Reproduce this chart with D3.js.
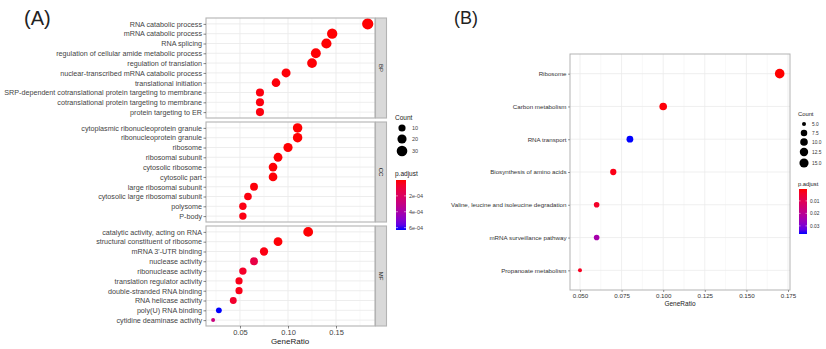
<!DOCTYPE html>
<html><head><meta charset="utf-8">
<script src="https://cdn.jsdelivr.net/npm/d3@7"></script>
<style>
body{margin:0;background:#fff;}
svg{display:block;font-family:"Liberation Sans",Arial,sans-serif;}
</style></head>
<body>
<svg id="c" width="826" height="349"></svg>
<script>
// ---------- Panel A data (GO) ----------
const bpTerms = ["RNA catabolic process","mRNA catabolic process","RNA splicing","regulation of cellular amide metabolic process","regulation of translation","nuclear-transcribed mRNA catabolic process","translational initiation","SRP-dependent cotranslational protein targeting to membrane","cotranslational protein targeting to membrane","protein targeting to ER"];
const bpRatio = [0.183,0.146,0.140,0.129,0.125,0.098,0.0875,0.0708,0.0708,0.0708];
const bpCount = [35,28,27,25,24,19,17,14,14,14];
const bpPadj  = [1e-6,2e-6,3e-6,4e-6,5e-6,8e-6,1e-5,1.5e-5,1.5e-5,1.5e-5];

const ccTerms = ["cytoplasmic ribonucleoprotein granule","ribonucleoprotein granule","ribosome","ribosomal subunit","cytosolic ribosome","cytosolic part","large ribosomal subunit","cytosolic large ribosomal subunit","polysome","P-body"];
const ccRatio = [0.110,0.110,0.100,0.0896,0.0844,0.0844,0.0646,0.0583,0.053,0.053];
const ccCount = [22,22,20,18,17,17,13,12,11,11];
const ccPadj  = [2e-6,2e-6,3e-6,5e-6,6e-6,6e-6,1e-5,1.5e-5,2e-5,2e-5];

const mfTerms = ["catalytic activity, acting on RNA","structural constituent of ribosome","mRNA 3'-UTR binding","nuclease activity","ribonuclease activity","translation regulator activity","double-stranded RNA binding","RNA helicase activity","poly(U) RNA binding","cytidine deaminase activity"];
const mfRatio = [0.121,0.0896,0.075,0.0646,0.053,0.049,0.049,0.043,0.028,0.022];
const mfCount = [24,18,15,13,11,10,10,9,6,4];
const mfPadj  = [3e-6,6e-6,2e-5,1.3e-4,6e-5,3e-5,3e-5,7e-5,6.3e-4,2.8e-4];

const goTicks = [0.05,0.10,0.15];
const goTickLabels = ["0.05","0.10","0.15"];
const goCountBreaks = [10,20,30];
const goPadjBreaks = [2e-4,4e-4,6e-4];
const goPadjLabels = ["2e-04","4e-04","6e-04"];

// ---------- Panel B data (KEGG) ----------
const keggTerms = ["Ribosome","Carbon metabolism","RNA transport","Biosynthesis of amino acids","Valine, leucine and isoleucine degradation","mRNA surveillance pathway","Propanoate metabolism"];
const keggRatio = [0.170,0.100,0.080,0.070,0.060,0.060,0.050];
const keggCount = [17,10,8,7,6,6,5];
const keggPadj  = [0.0005,0.001,0.0365,0.002,0.004,0.024,0.003];
const keggTicks = [0.050,0.075,0.100,0.125,0.150,0.175];
const keggTickLabels = ["0.050","0.075","0.100","0.125","0.150","0.175"];
const keggCountBreaks = [5,7.5,10,12.5,15];
const keggCountLabels = ["5.0","7.5","10.0","12.5","15.0"];
const keggPadjBreaks = [0.01,0.02,0.03];
const keggPadjLabels = ["0.01","0.02","0.03"];

const svg = d3.select("#c");
const GRID = "#ebebeb", BORDER = "#b3b3b3", TXT = "#444";

function sizeScale(cmin, cmax, rmin, rmax){
  const lin = d3.scaleLinear().domain([0,1]).range([rmin,rmax]);
  return c => lin(Math.sqrt(Math.max(0,(c-cmin)/(cmax-cmin))));
}
function colorScale(dom){
  return d3.scaleLinear().domain(dom).range(["red","blue"]).interpolate(d3.interpolateLab);
}

// ---------- Panel A ----------
const ax = d3.scaleLinear().domain([0.0146,0.1906]).range([206,375]);
const goAllPadj = bpPadj.concat(ccPadj, mfPadj);
const goAllCount = bpCount.concat(ccCount, mfCount);
const goCol = colorScale([0, d3.max(goAllPadj)]);
const goSize = sizeScale(d3.min(goAllCount), d3.max(goAllCount), 2.0, 5.6);

const facets = [
  {name:"BP", terms:bpTerms, ratio:bpRatio, count:bpCount, padj:bpPadj, y0:18, y1:118},
  {name:"CC", terms:ccTerms, ratio:ccRatio, count:ccCount, padj:ccPadj, y0:122, y1:222},
  {name:"MF", terms:mfTerms, ratio:mfRatio, count:mfCount, padj:mfPadj, y0:226, y1:326}
];
const minorA = [0.025,0.075,0.125,0.175];
facets.forEach(f=>{
  const g = svg.append("g");
  const y = d3.scalePoint().domain(f.terms).range([f.y0,f.y1]).padding(0.6);
  g.append("rect").attr("x",206).attr("y",f.y0).attr("width",169).attr("height",f.y1-f.y0).attr("fill","#fff");
  g.selectAll(".mn").data(minorA).join("line").attr("x1",d=>ax(d)).attr("x2",d=>ax(d)).attr("y1",f.y0).attr("y2",f.y1).attr("stroke","#f3f3f3").attr("stroke-width",0.6);
  g.selectAll(".mj").data(goTicks).join("line").attr("x1",d=>ax(d)).attr("x2",d=>ax(d)).attr("y1",f.y0).attr("y2",f.y1).attr("stroke",GRID).attr("stroke-width",0.9);
  g.selectAll(".hz").data(f.terms).join("line").attr("x1",206).attr("x2",375).attr("y1",d=>y(d)).attr("y2",d=>y(d)).attr("stroke",GRID).attr("stroke-width",0.9);
  const idx = d3.range(f.terms.length);
  g.selectAll("circle").data(idx).join("circle")
    .attr("cx",i=>ax(f.ratio[i])).attr("cy",i=>y(f.terms[i])).attr("r",i=>goSize(f.count[i]))
    .attr("fill",i=>goCol(f.padj[i]));
  g.append("rect").attr("x",206).attr("y",f.y0).attr("width",169).attr("height",f.y1-f.y0).attr("fill","none").attr("stroke",BORDER).attr("stroke-width",1.1);
  // strip
  g.append("rect").attr("x",375.5).attr("y",f.y0).attr("width",11).attr("height",f.y1-f.y0).attr("fill","#d9d9d9").attr("stroke",BORDER).attr("stroke-width",1.1);
  g.append("text").attr("transform",`translate(381,${(f.y0+f.y1)/2}) rotate(90)`).attr("text-anchor","middle").attr("dy","0.35em").attr("font-size",6).attr("fill","#1a1a1a").text(f.name);
  // y axis
  const ya = g.append("g").attr("transform","translate(206,0)").call(d3.axisLeft(y).tickSize(2.5).tickPadding(1.5));
  ya.select(".domain").remove();
  ya.selectAll("line").attr("stroke","#333").attr("stroke-width",0.6);
  ya.selectAll("text").attr("font-size",7.2).attr("fill",TXT).attr("font-family","Liberation Sans, Arial, sans-serif");
});
const xaA = svg.append("g").attr("transform","translate(0,326)").call(d3.axisBottom(ax).tickValues(goTicks).tickFormat((d,i)=>goTickLabels[i]).tickSize(2.5).tickPadding(1));
xaA.select(".domain").remove();
xaA.selectAll("line").attr("stroke","#333").attr("stroke-width",0.6);
xaA.selectAll("text").attr("font-size",7.5).attr("fill",TXT).attr("font-family","Liberation Sans, Arial, sans-serif");
svg.append("text").attr("x",290).attr("y",344).attr("text-anchor","middle").attr("font-size",8).attr("fill","#222").text("GeneRatio");
svg.append("text").attr("x",24).attr("y",25).attr("font-size",20).attr("fill","#222").text("(A)");

// legend A
svg.append("text").attr("x",395).attr("y",120).attr("font-size",6.5).attr("fill","#222").text("Count");
goCountBreaks.forEach((c,i)=>{
  const cy = [128,139,151][i];
  svg.append("circle").attr("cx",402).attr("cy",cy).attr("r",goSize(c)).attr("fill","#000");
  svg.append("text").attr("x",412).attr("y",cy).attr("dy","0.35em").attr("font-size",5.5).attr("fill",TXT).text(c);
});
svg.append("text").attr("x",395).attr("y",176).attr("font-size",6.5).attr("fill","#222").text("p.adjust");
(function(){
  const defs = svg.append("defs");
  const lg = defs.append("linearGradient").attr("id","gA").attr("x1",0).attr("x2",0).attr("y1",0).attr("y2",1);
  const dom = goCol.domain();
  d3.range(0,1.0001,0.1).forEach(t=>lg.append("stop").attr("offset",t).attr("stop-color",goCol(dom[0]+t*(dom[1]-dom[0]))));
  const cy = d3.scaleLinear().domain(dom).range([180,230]);
  svg.append("rect").attr("x",396).attr("y",180).attr("width",10).attr("height",50).attr("fill","url(#gA)");
  goPadjBreaks.forEach((b,i)=>{
    svg.append("line").attr("x1",396).attr("x2",398).attr("y1",cy(b)).attr("y2",cy(b)).attr("stroke","#fff").attr("stroke-width",0.5);
    svg.append("line").attr("x1",404).attr("x2",406).attr("y1",cy(b)).attr("y2",cy(b)).attr("stroke","#fff").attr("stroke-width",0.5);
    svg.append("text").attr("x",409).attr("y",cy(b)).attr("dy","0.35em").attr("font-size",5.5).attr("fill",TXT).text(goPadjLabels[i]);
  });
})();

// ---------- Panel B ----------
const bx = d3.scaleLinear().domain([0.044,0.1762]).range([570,790]);
const by = d3.scalePoint().domain(keggTerms).range([54,290]).padding(0.6);
const bCol = colorScale(d3.extent(keggPadj));
const bSize = sizeScale(d3.min(keggCount), d3.max(keggCount), 2.0, 4.8);
const gB = svg.append("g");
const minorB = [0.0625,0.0875,0.1125,0.1375,0.1625];
gB.selectAll(".mn").data(minorB).join("line").attr("x1",d=>bx(d)).attr("x2",d=>bx(d)).attr("y1",54).attr("y2",290).attr("stroke","#f3f3f3").attr("stroke-width",0.6);
gB.selectAll(".mj").data(keggTicks).join("line").attr("x1",d=>bx(d)).attr("x2",d=>bx(d)).attr("y1",54).attr("y2",290).attr("stroke",GRID).attr("stroke-width",0.8);
gB.selectAll(".hz").data(keggTerms).join("line").attr("x1",570).attr("x2",790).attr("y1",d=>by(d)).attr("y2",d=>by(d)).attr("stroke",GRID).attr("stroke-width",0.8);
gB.selectAll("circle").data(d3.range(keggTerms.length)).join("circle")
  .attr("cx",i=>bx(keggRatio[i])).attr("cy",i=>by(keggTerms[i])).attr("r",i=>bSize(keggCount[i])).attr("fill",i=>bCol(keggPadj[i]));
gB.append("rect").attr("x",570).attr("y",54).attr("width",220).attr("height",236).attr("fill","none").attr("stroke",BORDER).attr("stroke-width",1);
const yaB = gB.append("g").attr("transform","translate(570,0)").call(d3.axisLeft(by).tickSize(2).tickPadding(1.5));
yaB.select(".domain").remove();
yaB.selectAll("line").attr("stroke","#333").attr("stroke-width",0.5);
yaB.selectAll("text").attr("font-size",6.2).attr("fill","#333").attr("font-family","Liberation Sans, Arial, sans-serif");
const xaB = gB.append("g").attr("transform","translate(0,290)").call(d3.axisBottom(bx).tickValues(keggTicks).tickFormat((d,i)=>keggTickLabels[i]).tickSize(2).tickPadding(1.5));
xaB.select(".domain").remove();
xaB.selectAll("line").attr("stroke","#333").attr("stroke-width",0.5);
xaB.selectAll("text").attr("font-size",6.2).attr("fill","#333").attr("font-family","Liberation Sans, Arial, sans-serif");
svg.append("text").attr("x",680).attr("y",306).attr("text-anchor","middle").attr("font-size",6.5).attr("fill","#222").text("GeneRatio");
svg.append("text").attr("x",454).attr("y",24).attr("font-size",18).attr("fill","#222").text("(B)");

// legend B
svg.append("text").attr("x",798).attr("y",116).attr("font-size",5.8).attr("fill","#222").text("Count");
keggCountBreaks.forEach((c,i)=>{
  const cy = [124,133,142,152,163][i];
  svg.append("circle").attr("cx",804).attr("cy",cy).attr("r",bSize(c)).attr("fill","#000");
  svg.append("text").attr("x",812).attr("y",cy).attr("dy","0.35em").attr("font-size",4.8).attr("fill","#333").text(keggCountLabels[i]);
});
svg.append("text").attr("x",798).attr("y",186).attr("font-size",5.8).attr("fill","#222").text("p.adjust");
(function(){
  const defs = svg.append("defs");
  const lg = defs.append("linearGradient").attr("id","gB").attr("x1",0).attr("x2",0).attr("y1",0).attr("y2",1);
  const dom = bCol.domain();
  d3.range(0,1.0001,0.1).forEach(t=>lg.append("stop").attr("offset",t).attr("stop-color",bCol(dom[0]+t*(dom[1]-dom[0]))));
  const cy = d3.scaleLinear().domain(dom).range([189,234]);
  svg.append("rect").attr("x",799).attr("y",189).attr("width",8).attr("height",45).attr("fill","url(#gB)");
  keggPadjBreaks.forEach((b,i)=>{
    svg.append("line").attr("x1",799).attr("x2",800.5).attr("y1",cy(b)).attr("y2",cy(b)).attr("stroke","#fff").attr("stroke-width",0.5);
    svg.append("line").attr("x1",805.5).attr("x2",807).attr("y1",cy(b)).attr("y2",cy(b)).attr("stroke","#fff").attr("stroke-width",0.5);
    svg.append("text").attr("x",810).attr("y",cy(b)).attr("dy","0.35em").attr("font-size",4.8).attr("fill","#333").text(keggPadjLabels[i]);
  });
})();
</script>
</body></html>
